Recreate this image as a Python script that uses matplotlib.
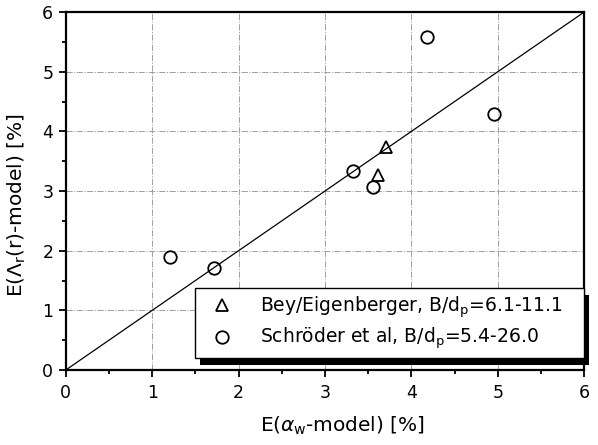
import matplotlib
matplotlib.use('Agg')
import matplotlib.pyplot as plt
from matplotlib.patches import Rectangle

plt.rcParams['font.family'] = ['DejaVu Sans']
plt.rcParams['mathtext.fontset'] = 'dejavusans'

# data
bey_x = [3.71, 3.61]
bey_y = [3.74, 3.27]
schroeder_x = [1.21, 1.71, 3.32, 3.56, 4.18, 4.95]
schroeder_y = [1.90, 1.71, 3.33, 3.07, 5.58, 4.29]
diag = [0, 6]

fig = plt.figure(figsize=(5.98, 4.45), dpi=100)
ax = fig.add_axes([0.110, 0.1685, 0.867, 0.8045])

ax.plot(diag, diag, color='k', lw=0.9, zorder=2)
ax.plot(bey_x, bey_y, ls='none', marker='^', ms=9, mfc='none', mec='k', mew=1.3,
        label='Bey/Eigenberger, B/d$_\\mathrm{p}$=6.1-11.1', zorder=3)
ax.plot(schroeder_x, schroeder_y, ls='none', marker='o', ms=9, mfc='none', mec='k', mew=1.3,
        label='Schröder et al, B/d$_\\mathrm{p}$=5.4-26.0', zorder=3)

ax.set_xlim(0, 6)
ax.set_ylim(0, 6)
ax.set_xticks(range(7))
ax.set_yticks(range(7))
ax.set_xticks([i + 0.5 for i in range(6)], minor=True)
ax.set_yticks([i + 0.5 for i in range(6)], minor=True)
ax.tick_params(which='both', direction='out', width=1.3, labelsize=12.5, top=False, right=False)
ax.tick_params(which='major', length=5)
ax.tick_params(which='minor', length=3)
ax.tick_params(axis='x', which='major', pad=5)
ax.tick_params(axis='y', which='major', pad=4)
ax.grid(True, which='major', color='#a0a0a0', ls='-.', lw=0.7)
for s in ax.spines.values():
    s.set_linewidth(1.6)

ax.set_xlabel('E($\\alpha_\\mathrm{w}$-model) [%]', fontsize=14.5)
ax.set_ylabel('E($\\Lambda_\\mathrm{r}$(r)-model) [%]', fontsize=14.5)
ax.xaxis.set_label_coords(0.533, -0.125)
ax.yaxis.set_label_coords(-0.072, 0.46)

leg = ax.legend(loc='lower left', bbox_to_anchor=(0.249, 0.0335, 0.751, 0.2), mode='expand',
                borderaxespad=0, fancybox=False, edgecolor='k', framealpha=1,
                fontsize=13.5, labelspacing=0.3, handletextpad=0.9, handlelength=2.2,
                borderpad=0.35)
leg.get_frame().set_linewidth(1.0)
leg.set_zorder(6)

fig.canvas.draw()
bb = leg.get_window_extent().transformed(ax.transAxes.inverted())
dx = 5 / (ax.bbox.width)
dy = 7 / (ax.bbox.height)
ax.add_patch(Rectangle((bb.x0 + dx, bb.y0 - dy), bb.width, bb.height, transform=ax.transAxes,
                       facecolor='k', edgecolor='none', zorder=5.5, clip_on=False))

fig.savefig('out.png', dpi=100)
